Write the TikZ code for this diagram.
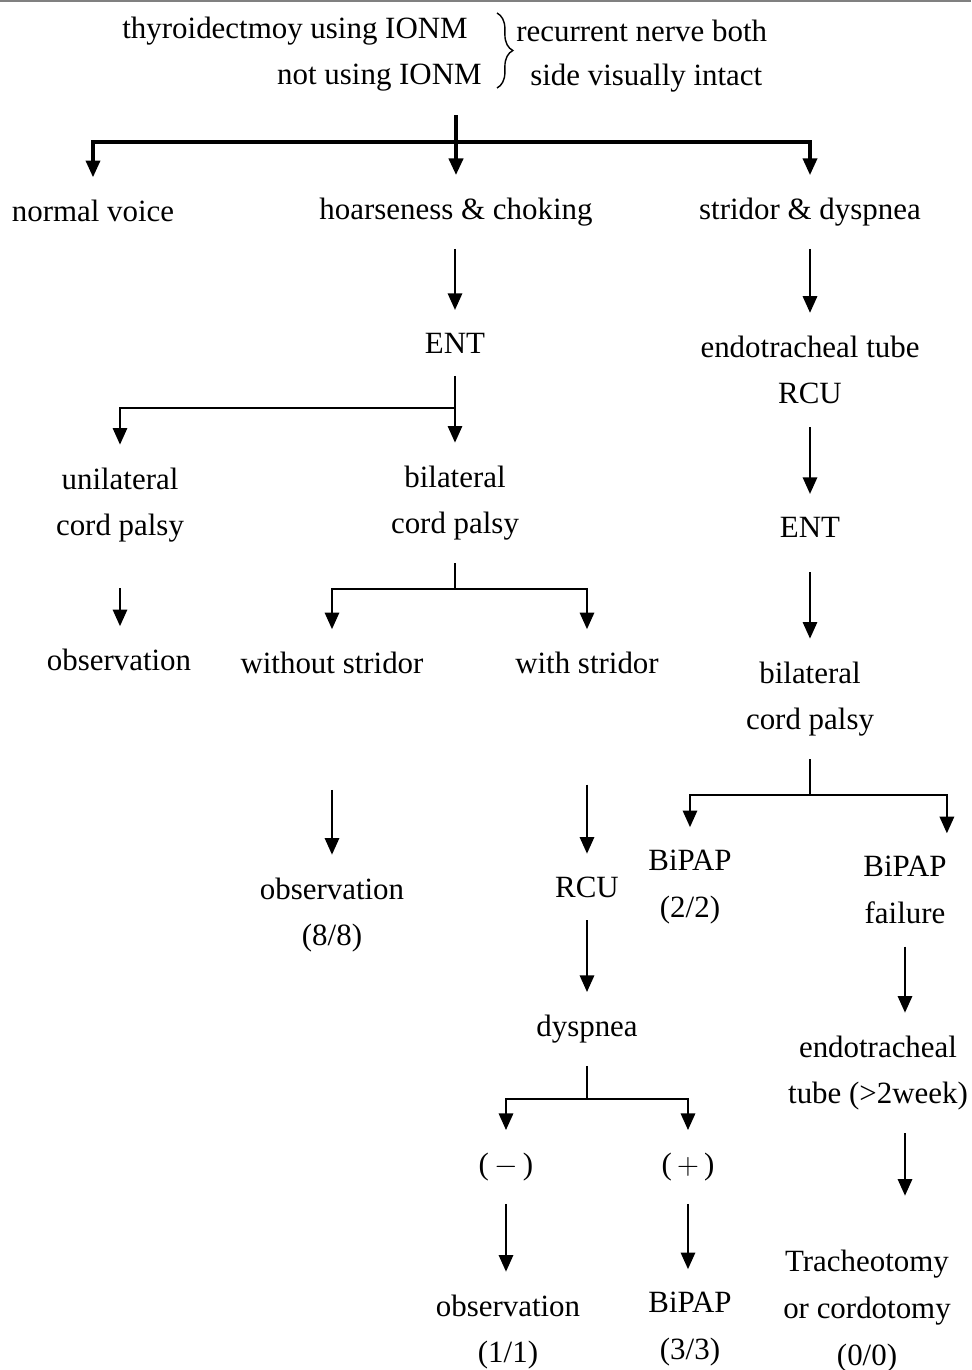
\documentclass[tikz,border=0pt]{standalone}
\usepackage{fontspec}
\setmainfont{Liberation Serif}
\usetikzlibrary{arrows.meta,decorations.pathreplacing}
\tikzset{
  txt/.style={inner sep=0pt, outer ysep=13pt, align=center},
  ln/.style={line width=1.6pt},
  arr/.style={ln, -{Triangle[width=8pt,length=9.5pt]}},
}
\begin{document}
\begin{tikzpicture}[x=0.02cm, y=-0.02cm, font=\fontsize{17.6}{26.6}\selectfont]
  \useasboundingbox (0,0) rectangle (971,1370);
  \draw[gray, line width=0.8pt] (0,1) -- (971,1);
  \node[inner sep=0pt, anchor=east] (ionm) at (468,31) {thyroidectmoy using IONM};
  \node[inner sep=0pt, anchor=east] (noionm) at (482,78) {not using IONM};
  \draw[line width=0.8pt, decorate, decoration={brace, amplitude=9pt}] (497,13) -- (497,88);
  \node[inner sep=0pt, anchor=west] (nerve) at (516,31) {recurrent nerve both};
  \node[inner sep=0pt, anchor=west] (intact) at (530,78) {side visually intact};

  \node[txt] (normal) at (93,211) {normal voice};
  \node[txt] (hoarse) at (456,212) {hoarseness \& choking};
  \node[txt] (stridor) at (810,212) {stridor \& dyspnea};
  \node[txt] (ent) at (455,343) {ENT};
  \node[txt] (tube) at (810,370) {endotracheal tube\\RCU};
  \node[txt] (uni) at (120,505) {unilateral\\cord palsy};
  \node[txt] (bil) at (455,503) {bilateral\\cord palsy};
  \node[txt] (entr) at (810,527) {ENT};
  \node[txt] (obsu) at (119,660) {observation};
  \node[txt] (without) at (332,663) {without stridor};
  \node[txt] (with) at (587,663) {with stridor};
  \node[txt] (bilr) at (810,699) {bilateral\\cord palsy};
  \node[txt] (bipap2) at (690,887) {BiPAP\\(2/2)};
  \node[txt] (fail) at (905,890) {BiPAP\\failure};
  \node[txt] (obsw) at (332,915) {observation\\(8/8)};
  \node[txt] (rcu) at (587,887) {RCU};
  \node[txt] (dysp) at (587,1029) {dyspnea};
  \node[txt] (etube) at (878,1073) {endotracheal\\tube (>2week)};
  \node[txt] (neg) at (506,1167) {(\,$-$\,)};
  \node[txt] (pos) at (688,1167) {(\,$+$\,)};
  \node[txt] (obsn) at (508,1332) {observation\\(1/1)};
  \node[txt] (bipap3) at (690,1329) {BiPAP\\(3/3)};
  \node[txt] (trach) at (867,1311) {Tracheotomy\\or cordotomy\\(0/0)};

  \coordinate (root) at (456,115);
  \coordinate (s0) at (456,142);
  \coordinate (s1) at (455,408);
  \coordinate (s2) at (455,589);
  \coordinate (s3) at (810,795);
  \coordinate (s4) at (587,1099);

  \draw[arr, line width=2.2pt] (root) -- (hoarse);
  \draw[arr, line width=1.9pt] (s0) -| (normal);
  \draw[arr, line width=1.9pt] (s0) -| (stridor);
  \draw[arr] (hoarse.south -| ent) -- (ent);
  \draw[arr] (stridor) -- (tube);
  \draw[ln] (ent) -- (s1);
  \draw[arr] (s1) -| (uni);
  \draw[arr] (s1) -- (bil);
  \draw[arr] (tube) -- (entr);
  \draw[arr, shorten <=7pt] (entr) -- (bilr);
  \draw[arr, shorten <=13pt] (uni) -- (uni |- obsu.north);
  \draw[ln] (bil) -- (s2);
  \draw[arr] (s2) -| (without);
  \draw[arr] (s2) -| (with);
  \draw[arr, shorten <=53pt] (without) -- (obsw);
  \draw[arr, shorten <=50pt] (with) -- (rcu);
  \draw[arr] (rcu) -- (dysp);
  \draw[ln] (dysp) -- (s4);
  \draw[arr] (s4) -| (neg);
  \draw[arr] (s4) -| (pos);
  \draw[arr] (neg) -- (neg |- obsn.north);
  \draw[arr] (pos) -- (pos |- bipap3.north);
  \draw[ln] (bilr) -- (s3);
  \draw[arr] (s3) -| (bipap2);
  \draw[arr] (s3) -| (fail.north east);
  \draw[arr] (fail) -- (fail |- etube.north);
  \draw[arr, shorten >=18pt] (etube.south -| fail) -- (fail |- trach.north);
\end{tikzpicture}
\end{document}
